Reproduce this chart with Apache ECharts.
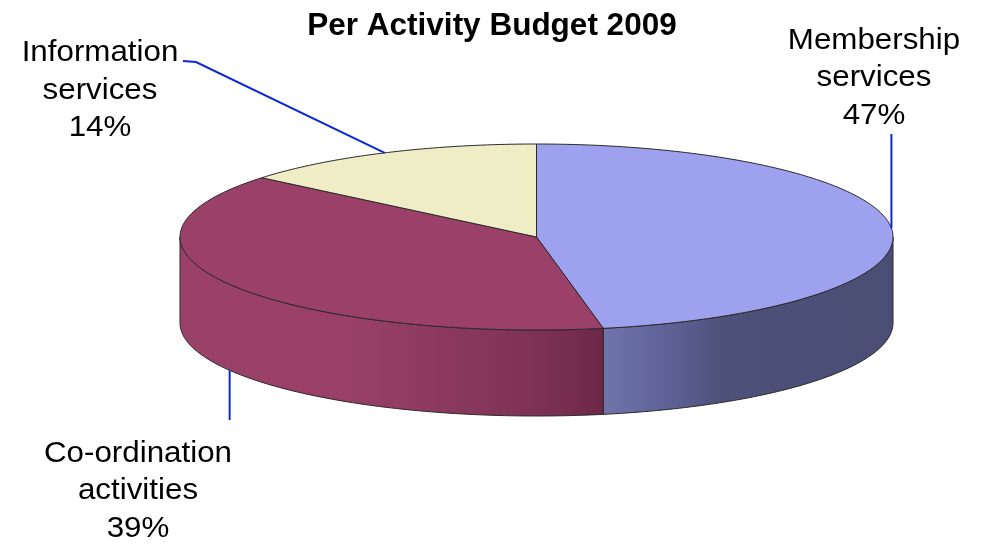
<!DOCTYPE html>
<html>
<head>
<meta charset="utf-8">
<script src="https://cdn.jsdelivr.net/npm/echarts@6/dist/echarts.min.js"></script>
<style>
  html, body { margin: 0; padding: 0; background: #ffffff; }
  #chart { width: 984px; height: 544px; }
</style>
</head>
<body>
<div id="chart"></div>
<script>
// ---- data ----
const chartTitle = 'Per Activity Budget 2009';
const categories = ['Membership\nservices', 'Co-ordination\nactivities', 'Information\nservices'];
const values = [47, 39, 14];

// ---- style ----
const topColors = ['#9da1ee', '#9b4069', '#efedc6'];
const wallStops = [
  [[0, '#6f74a9'], [0.2, '#60649a'], [0.42, '#4d5079'], [1, '#4a4d74']],
  [[0, '#9b4069'], [0.4, '#9a4068'], [0.64, '#8a385e'], [0.86, '#7c3154'], [1, '#6d2747']]
];
const leaderColor = '#0a28d8';
const edgeColor = '#2a2a2a';
const labelFont = '29px "Liberation Sans", Arial, sans-serif';
const labelStretch = 1.08;

// ---- layout of the tilted disc (pixels) ----
const disc = { cx: 536.5, cy: 237, rx: 356.5, ry: 93, depth: 86 };
// label placement: text centre and leader path, per slice
const labelLayout = [
  { tx: 874, ty: 78, lead: (a) => [[a[0], 134], a] },
  { tx: 138, ty: 491, lead: (a) => [[a[0], a[1]], [a[0], 420]] },
  { tx: 100, ty: 90.5, lead: (a) => [[183, 61], [196, 62], a] }
];

const total = values.reduce((s, v) => s + v, 0);
const starts = [];
values.reduce((acc, v) => { starts.push(acc); return acc + v; }, 0);

function rimPoint(deg, dz) {
  const r = deg * Math.PI / 180;
  return [disc.cx + disc.rx * Math.sin(r), disc.cy - disc.ry * Math.cos(r) + (dz || 0)];
}
function arc(a0, a1, dz) {
  const pts = [];
  const n = Math.max(2, Math.ceil(Math.abs(a1 - a0)));
  for (let i = 0; i <= n; i++) pts.push(rimPoint(a0 + (a1 - a0) * i / n, dz));
  return pts;
}

function renderItem(params, api) {
  const i = params.dataIndex;
  const v = api.value(0);
  const a0 = starts[i] / total * 360;
  const a1 = a0 + v / total * 360;
  const mid = (a0 + a1) / 2;
  const children = [];

  // front wall (only the part facing the viewer: 90..270 deg)
  const s = Math.max(a0, 90), e = Math.min(a1, 270);
  if (e > s) {
    const pts = arc(s, e, 0).concat(arc(e, s, disc.depth));
    children.push({
      type: 'polygon',
      shape: { points: pts },
      style: {
        fill: new echarts.graphic.LinearGradient(0, 0, 1, 0,
          wallStops[i].map(st => ({ offset: st[0], color: st[1] }))),
        stroke: edgeColor, lineWidth: 1
      }
    });
  }

  // top face
  const topPts = [[disc.cx, disc.cy]].concat(arc(a0, a1, 0));
  children.push({
    type: 'polygon',
    shape: { points: topPts },
    style: { fill: topColors[i], stroke: edgeColor, lineWidth: 1 }
  });

  // leader line from the slice's mid-angle on the rim
  const front = mid > 90 && mid < 270;
  const anchor = rimPoint(mid, front ? disc.depth : 0);
  children.push({
    type: 'polyline',
    shape: { points: labelLayout[i].lead(anchor) },
    style: { stroke: leaderColor, lineWidth: 2, fill: null }
  });

  // label: category + share
  const pct = Math.round(v / total * 100) + '%';
  children.push({
    type: 'text',
    x: labelLayout[i].tx,
    y: labelLayout[i].ty,
    scaleX: labelStretch,
    style: {
      text: categories[i] + '\n' + pct,
      x: 0, y: 0,
      font: labelFont,
      fill: '#000000',
      align: 'center', verticalAlign: 'middle',
      lineHeight: 37.5
    }
  });

  return { type: 'group', children: children };
}

const chart = echarts.init(document.getElementById('chart'), null, { renderer: 'canvas' });
chart.setOption({
  backgroundColor: '#ffffff',
  animation: false,
  title: {
    text: chartTitle,
    left: 'center',
    top: 5,
    textStyle: {
      fontFamily: '"Liberation Sans", Arial, sans-serif',
      fontWeight: 'bold',
      fontSize: 31.5,
      color: '#000000'
    }
  },
  series: [{
    type: 'custom',
    coordinateSystem: 'none',
    renderItem: renderItem,
    data: categories.map((c, i) => ({ name: c, value: [values[i]] }))
  }]
});
</script>
</body>
</html>
